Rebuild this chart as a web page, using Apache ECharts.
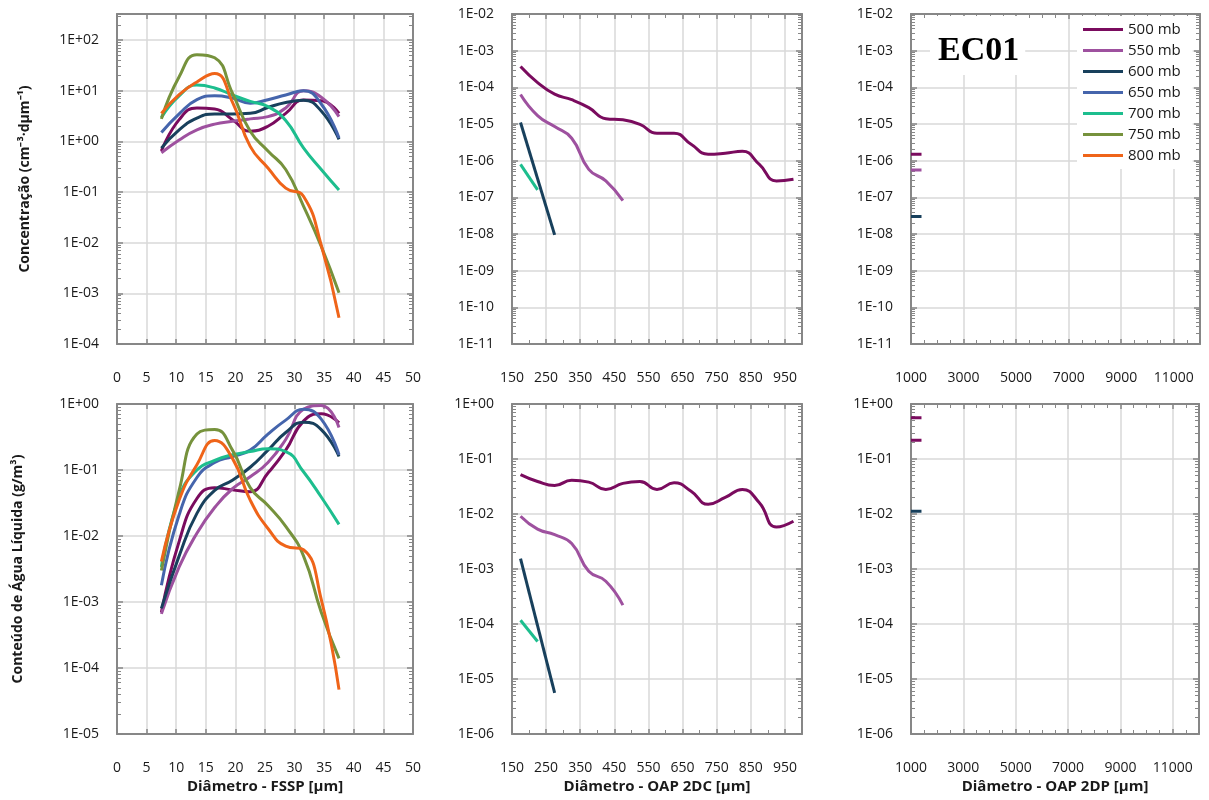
<!DOCTYPE html>
<html><head><meta charset="utf-8">
<script src="https://cdn.jsdelivr.net/npm/echarts@6/dist/echarts.min.js"></script>
<style>html,body{margin:0;padding:0;background:#fff}#c{width:1209px;height:800px}</style>
</head><body><div id="c"></div>
<script>
// ---------- DATA ----------
const levels = ['500 mb','550 mb','600 mb','650 mb','700 mb','750 mb','800 mb'];

// FSSP bin centres (µm)
const fsspDiam = [7.5,10.5,13.5,16.5,19.5,22.5,25.5,28.5,31.5,34.5,37.5];
// FSSP concentration (cm-3 µm-1)
const fsspConc500 = [0.65,2.7,4.6,4.4,2.7,1.6,2.0,3.6,6.6,6.4,3.6];
const fsspConc550 = [0.6,1.07,1.7,2.2,2.5,2.8,3.1,4.6,10,7.5,3.1];
const fsspConc600 = [0.74,1.7,2.9,3.5,3.5,3.6,4.7,5.9,6.5,4.0,1.1];
const fsspConc650 = [1.5,3.5,6.7,8.0,7.2,5.7,6.7,8.3,10,5.5,1.17];
const fsspConc700 = [3.0,8.0,13,11.4,8.3,6.2,4.9,2.6,0.75,0.28,0.11];
const fsspConc750 = [2.8,19,52,45,9,1.6,0.65,0.28,0.053,0.0085,0.00103];
const fsspConc800 = [3.6,8.4,15,22,6,0.8,0.30,0.12,0.083,0.009,0.00033];
// FSSP liquid water content (g/m3)
const fsspLwc500 = [7e-4,0.0083,0.037,0.054,0.05,0.047,0.09,0.2,0.55,0.71,0.52];
const fsspLwc550 = [6.6e-4,0.0034,0.011,0.027,0.052,0.079,0.13,0.29,0.83,0.95,0.44];
const fsspLwc600 = [8e-4,0.005,0.022,0.049,0.07,0.11,0.2,0.37,0.53,0.41,0.16];
const fsspLwc650 = [0.0018,0.021,0.077,0.13,0.16,0.2,0.35,0.57,0.83,0.59,0.17];
const fsspLwc700 = [0.0034,0.039,0.10,0.14,0.17,0.19,0.21,0.19,0.094,0.039,0.015];
const fsspLwc750 = [0.003,0.049,0.35,0.41,0.2,0.054,0.029,0.014,0.005,7e-4,1.4e-4];
const fsspLwc800 = [0.0041,0.035,0.12,0.28,0.15,0.035,0.013,0.007,0.0062,0.0011,4.7e-5];

// OAP 2DC bin centres (µm)
const dcDiam = [175,225,275,325,375,425,475,525,575,625,675,725,775,825,875,925,975];
const dcConc500 = [3.7e-4,1.35e-4,6.5e-5,4.6e-5,2.8e-5,1.4e-5,1.3e-5,9.8e-6,5.6e-6,5.6e-6,2.8e-6,1.5e-6,1.6e-6,1.8e-6,7.9e-7,2.8e-7,3.1e-7];
const dcConc550 = [6.4e-5,1.7e-5,8.5e-6,4.1e-6,5.8e-7,2.8e-7,8.1e-8];
const dcDiam600 = [175,275];
const dcConc600 = [1.1e-5,9.5e-9];
const dcDiam700 = [175,225];
const dcConc700 = [7.9e-7,1.6e-7];
const dcLwc500 = [0.052,0.039,0.033,0.041,0.038,0.028,0.036,0.039,0.028,0.037,0.026,0.015,0.020,0.028,0.016,0.0058,0.0074];
const dcLwc550 = [0.0091,0.0053,0.0042,0.0029,9.1e-4,6.0e-4,2.2e-4];
const dcLwc600 = [1.55e-3,5.6e-6];
const dcLwc700 = [1.17e-4,4.8e-5];

// OAP 2DP
const dpDiam = [1000,1400];
const dpConc500 = [1.5e-6,1.5e-6];
const dpConc550 = [5.6e-7,5.6e-7];
const dpConc600 = [3.0e-8,3.0e-8];
const dpLwc500 = [0.56,0.56];
const dpLwc550 = [0.22,0.22];
const dpLwc600 = [0.0112,0.0112];

// ---------- STYLE ----------
const colors = ['#7A0B5E','#9E519F','#18405C','#4565AC','#1DBE8E','#76923C','#EF6419'];
const FONT = 'Open Sans';
const AXIS_GREY = '#878787';
const GRID_GREY = '#D9D9D9';
const LEGEND_ICON = 'path://M0,0L0.01,0L0.01,0.01L0,0.01Z M0,5.5L40,5.5L40,8.5L0,8.5Z M39.99,13.99L40,13.99L40,14L39.99,14Z';

const grids = [
  {left:117, top:14, width:296, height:330},
  {left:512, top:14, width:290, height:330},
  {left:911, top:14, width:289, height:330},
  {left:117, top:404, width:296, height:330},
  {left:512, top:404, width:290, height:330},
  {left:911, top:404, width:288, height:330}
];
const xSpecs = [
  {min:0, max:50, interval:5, minor:0},
  {min:150, max:1000, interval:100, minor:2},
  {min:1000, max:12000, interval:2000, minor:4}
];
const ySpecs = [
  {min:1e-4, max:330}, {min:1e-11, max:1e-2}, {min:1e-11, max:1e-2},
  {min:1e-5, max:1}, {min:1e-6, max:1}, {min:1e-6, max:1}
];
const xNames = ['Diâmetro - FSSP [μm]','Diâmetro - OAP 2DC [μm]','Diâmetro - OAP 2DP [μm]'];

function yFmt(v){
  const e = Math.log10(v), r = Math.round(e);
  if (Math.abs(e - r) > 1e-6) return '';
  return '1E' + (r < 0 ? '-' : '+') + String(Math.abs(r)).padStart(2,'0');
}

const xAxis = [], yAxis = [];
grids.forEach((g, i) => {
  const xs = xSpecs[i % 3], ys = ySpecs[i];
  const bottomRow = i >= 3;
  const minor = xs.minor ? {show:true, splitNumber:xs.minor, length:4, lineStyle:{color:AXIS_GREY, width:1}} : {show:false};
  xAxis.push({
    gridIndex:i, type:'value', position:'bottom', min:xs.min, max:xs.max, interval:xs.interval,
    axisLine:{show:true, onZero:false, lineStyle:{color:AXIS_GREY, width:2}},
    axisTick:{show:true, inside:true, length:5, lineStyle:{color:AXIS_GREY, width:1.5}},
    minorTick:minor,
    axisLabel:{show:true, margin:27, fontFamily:FONT, fontSize:14, color:'#1a1a1a',
      formatter:(v)=> ((v - xs.min) % xs.interval === 0) ? String(v) : '', showMaxLabel:true, showMinLabel:true},
    splitLine:{show:true, lineStyle:{color:GRID_GREY, width:1.5}},
    name: bottomRow ? xNames[i-3] : '', nameLocation:'middle', nameGap:45,
    nameTextStyle:{fontFamily:FONT, fontSize:15, fontWeight:'bold', color:'#1a1a1a'}
  });
  xAxis.push({
    gridIndex:i, type:'value', position:'top', min:xs.min, max:xs.max, interval:xs.interval,
    axisLine:{show:true, onZero:false, lineStyle:{color:AXIS_GREY, width:2}},
    axisTick:{show:true, inside:true, length:5, lineStyle:{color:AXIS_GREY, width:1.5}},
    minorTick:minor, axisLabel:{show:false}, splitLine:{show:false}
  });
  let yName = '', yGap = 84;
  if (i === 0) { yName = 'Concentração (cm⁻³·dμm⁻¹)'; yGap = 85; }
  if (i === 3) { yName = 'Conteúdo de Água Líquida (g/m³)'; yGap = 92; }
  const yMinor = {show:true, splitNumber:9, length:4, lineStyle:{color:AXIS_GREY, width:1}};
  yAxis.push({
    gridIndex:i, type:'log', logBase:10, position:'left', min:ys.min, max:ys.max, splitNumber:10,
    axisLine:{show:true, onZero:false, lineStyle:{color:AXIS_GREY, width:2}},
    axisTick:{show:true, inside:true, length:6, lineStyle:{color:AXIS_GREY, width:1.5}},
    minorTick:yMinor,
    axisLabel:{show:true, margin:18, fontFamily:FONT, fontSize:14, color:'#1a1a1a', formatter:yFmt},
    splitLine:{show:true, lineStyle:{color:GRID_GREY, width:1.5}},
    name:yName, nameLocation:'middle', nameGap:yGap, nameRotate:90,
    nameTextStyle:{fontFamily:FONT, fontSize:14, fontWeight:'bold', color:'#1a1a1a'}
  });
  yAxis.push({
    gridIndex:i, type:'log', logBase:10, position:'right', min:ys.min, max:ys.max, splitNumber:10,
    axisLine:{show:true, onZero:false, lineStyle:{color:AXIS_GREY, width:2}},
    axisTick:{show:true, inside:true, length:6, lineStyle:{color:AXIS_GREY, width:1.5}},
    minorTick:yMinor, axisLabel:{show:false}, splitLine:{show:false}
  });
});

const series = [];
function addSeries(gridIdx, levelIdx, xs, ys, colorOverride){
  const c = colorOverride || colors[levelIdx];
  series.push({
    name: levels[levelIdx], type:'line', xAxisIndex:gridIdx*2, yAxisIndex:gridIdx*2,
    data: xs.map((x,k)=>[x, ys[k]]), smooth:0.5, symbol:'none', clip:true,
    lineStyle:{color:c, width:3}, itemStyle:{color:c}, z:3
  });
}
// panel 0: FSSP concentration
[fsspConc500,fsspConc550,fsspConc600,fsspConc650,fsspConc700,fsspConc750,fsspConc800]
  .forEach((arr,j)=>addSeries(0,j,fsspDiam,arr));
// panel 1: 2DC concentration
addSeries(1,0,dcDiam,dcConc500);
addSeries(1,1,dcDiam.slice(0,dcConc550.length),dcConc550);
addSeries(1,2,dcDiam600,dcConc600);
addSeries(1,4,dcDiam700,dcConc700);
// panel 2: 2DP concentration
addSeries(2,0,dpDiam,dpConc500);
addSeries(2,1,dpDiam,dpConc550);
addSeries(2,2,dpDiam,dpConc600);
// panel 3: FSSP LWC
[fsspLwc500,fsspLwc550,fsspLwc600,fsspLwc650,fsspLwc700,fsspLwc750,fsspLwc800]
  .forEach((arr,j)=>addSeries(3,j,fsspDiam,arr));
// panel 4: 2DC LWC
addSeries(4,0,dcDiam,dcLwc500);
addSeries(4,1,dcDiam.slice(0,dcLwc550.length),dcLwc550);
addSeries(4,2,dcDiam600,dcLwc600);
addSeries(4,4,dcDiam700,dcLwc700);
// panel 5: 2DP LWC
addSeries(5,0,dpDiam,dpLwc500);
addSeries(5,1,dpDiam,dpLwc550,colors[0]);
addSeries(5,2,dpDiam,dpLwc600);

const chart = echarts.init(document.getElementById('c'), null, {renderer:'canvas'});
chart.setOption({
  animation:false,
  backgroundColor:'#fff',
  title:{text:'EC01', left:930, top:16, backgroundColor:'#fff', padding:[18,6,7,8],
    textStyle:{fontFamily:'Liberation Serif', fontWeight:'bold', fontSize:34, color:'#000'}},
  legend:{orient:'vertical', left:1077, top:16, backgroundColor:'#fff', padding:[6,12,6,6],
    itemWidth:40, itemHeight:14, itemGap:6, data:levels, icon:LEGEND_ICON,
    textStyle:{fontFamily:FONT, fontSize:15, color:'#1a1a1a'}},
  grid:grids,
  xAxis:xAxis,
  yAxis:yAxis,
  series:series
});
</script></body></html>
